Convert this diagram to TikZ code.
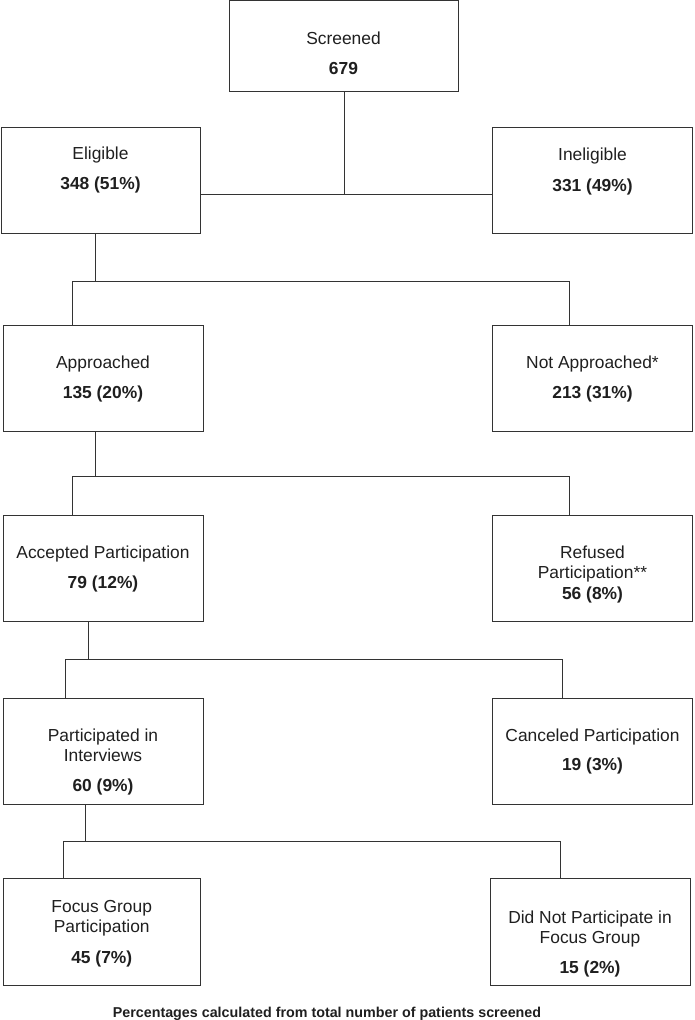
\documentclass[tikz,border=0pt]{standalone}
\usepackage{fontspec}
\setmainfont{Liberation Sans}
\begin{document}
\begin{tikzpicture}[x=1pt,y=-1pt,
  box/.style={draw=black!80,line width=1pt,rectangle,inner sep=0pt},
  conn/.style={draw=black!80,line width=1pt},
  txt/.style={inner sep=0pt,anchor=base,text=black!88,font=\fontsize{17.4}{20}\selectfont},
  num/.style={txt,font=\fontsize{17.4}{20}\selectfont\bfseries},
  foot/.style={inner sep=0pt,anchor=base,text=black!88,font=\fontsize{14.3}{17}\selectfont\bfseries}]
\useasboundingbox (0,0) rectangle (694,1020);
% boxes
\node[box,minimum width=229pt,minimum height=91pt] (scr) at (343.5,46) {};
\node[box,minimum width=199pt,minimum height=106pt] (eli) at (100.5,180) {};
\node[box,minimum width=200pt,minimum height=106pt] (ine) at (592.5,180) {};
\node[box,minimum width=200pt,minimum height=106pt] (app) at (103,378) {};
\node[box,minimum width=200pt,minimum height=106pt] (nap) at (592.5,378) {};
\node[box,minimum width=200pt,minimum height=106pt] (acc) at (103,568) {};
\node[box,minimum width=200pt,minimum height=106pt] (ref) at (592.5,568) {};
\node[box,minimum width=200pt,minimum height=106pt] (par) at (103,751) {};
\node[box,minimum width=200pt,minimum height=106pt] (can) at (592.5,751) {};
\node[box,minimum width=197.5pt,minimum height=107pt] (foc) at (101.75,931.5) {};
\node[box,minimum width=200pt,minimum height=107pt] (dnp) at (590,931.5) {};
% texts
\node[txt] (scrA) at (343.5,44) {Screened};
\node[num] (scrB) at (343.5,74) {679};
\node[txt] (eliA) at (100.5,159) {Eligible};
\node[num] (eliB) at (100.5,189) {348 (51\%)};
\node[txt] (ineA) at (592.5,160) {Ineligible};
\node[num] (ineB) at (592.5,191) {331 (49\%)};
\node[txt] (appA) at (103,368) {Approached};
\node[num] (appB) at (103,398) {135 (20\%)};
\node[txt] (napA) at (592.5,368) {Not Approached*};
\node[num] (napB) at (592.5,398) {213 (31\%)};
\node[txt] (accA) at (103,558) {Accepted Participation};
\node[num] (accB) at (103,588) {79 (12\%)};
\node[txt] (refA) at (592.5,558) {Refused};
\node[txt] (refB) at (592.5,578) {Participation**};
\node[num] (refC) at (592.5,599) {56 (8\%)};
\node[txt] (parA) at (103,741) {Participated in};
\node[txt] (parB) at (103,761) {Interviews};
\node[num] (parC) at (103,791) {60 (9\%)};
\node[txt] (canA) at (592.5,741) {Canceled Participation};
\node[num] (canB) at (592.5,770) {19 (3\%)};
\node[txt] (focA) at (101.75,912) {Focus Group};
\node[txt] (focB) at (101.75,932) {Participation};
\node[num] (focC) at (101.75,963) {45 (7\%)};
\node[txt] (dnpA) at (590,923) {Did Not Participate in};
\node[txt] (dnpB) at (590,943) {Focus Group};
\node[num] (dnpC) at (590,973) {15 (2\%)};
\node[foot] (note) at (327,1017) {Percentages calculated from total number of patients screened};
% junction coordinates
\coordinate (j1) at (344,194);
\coordinate (j2) at (95,281);  \coordinate (j2L) at (72,281);  \coordinate (j2R) at (569,281);
\coordinate (j3) at (95,476);  \coordinate (j3L) at (72,476);  \coordinate (j3R) at (569,476);
\coordinate (j4) at (88.5,659); \coordinate (j4L) at (65.5,659); \coordinate (j4R) at (562,659);
\coordinate (j5) at (85,841);  \coordinate (j5L) at (63,841);  \coordinate (j5R) at (560,841);
% connectors
\draw[conn] (j1 |- scr.south) -- (j1);
\draw[conn] (eli.east |- j1) -- (ine.west |- j1);
\draw[conn] (j2 |- eli.south) -- (j2);
\draw[conn] (j2L |- app.north) -- (j2L) -- (j2R) -- (j2R |- nap.north);
\draw[conn] (j3 |- app.south) -- (j3);
\draw[conn] (j3L |- acc.north) -- (j3L) -- (j3R) -- (j3R |- ref.north);
\draw[conn] (j4 |- acc.south) -- (j4);
\draw[conn] (j4L |- par.north) -- (j4L) -- (j4R) -- (j4R |- can.north);
\draw[conn] (j5 |- par.south) -- (j5);
\draw[conn] (j5L |- foc.north) -- (j5L) -- (j5R) -- (j5R |- dnp.north);
\end{tikzpicture}
\end{document}
